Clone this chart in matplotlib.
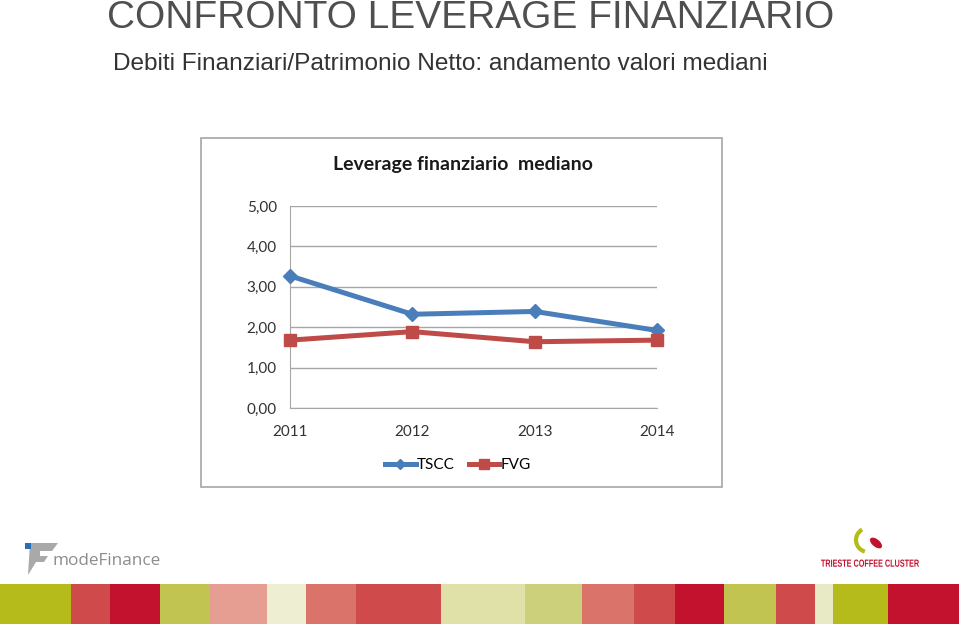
import matplotlib
matplotlib.use("Agg")
import matplotlib.pyplot as plt
import matplotlib.transforms as mtransforms
from matplotlib.patches import Rectangle, Polygon, Ellipse, Arc, PathPatch
from matplotlib.textpath import TextPath
from matplotlib.font_manager import FontProperties
from matplotlib.ticker import FuncFormatter

W, H = 959, 624

# dati
years = ["2011", "2012", "2013", "2014"]
tscc = [3.27, 2.32, 2.39, 1.92]
fvg = [1.68, 1.89, 1.64, 1.68]

# fascia colorata in basso: (x inizio, x fine, colore)
stripes = [
    (0, 71, "#b5bb1b"), (71, 110, "#cf4b4b"), (110, 160, "#c3122e"),
    (160, 210, "#c2c452"), (210, 267, "#e69d92"), (267, 306, "#eeefd2"),
    (306, 356, "#da736a"), (356, 441, "#cf4b4b"), (441, 525, "#dfe1a8"),
    (525, 582, "#cdd07a"), (582, 634, "#da736a"), (634, 675, "#cf4b4b"),
    (675, 724, "#c3122e"), (724, 776, "#c2c452"), (776, 815, "#cf4b4b"),
    (815, 833, "#e8eac5"), (833, 888, "#b5bb1b"), (888, 959, "#c3122e"),
]


def fx(x):
    return x / W


def fy(y):
    # y in pixel dall'alto
    return 1 - y / H


fig = plt.figure(figsize=(W / 100, H / 100), dpi=100)
fig.patch.set_facecolor("white")
pix = mtransforms.Affine2D().scale(1 / W, 1 / H) + fig.transFigure

# titoli della slide
fig.text(fx(107), fy(28.5), "CONFRONTO LEVERAGE FINANZIARIO", family="Liberation Sans",
         fontsize=28, color="#4f4f4f", va="baseline", ha="left")
fig.text(fx(113), fy(70), "Debiti Finanziari/Patrimonio Netto: andamento valori mediani",
         family="Liberation Sans", fontsize=17.6, color="#333333", va="baseline", ha="left")

# cornice del grafico
fig.patches.append(Rectangle((fx(201), fy(487)), fx(722) - fx(201), fy(138) - fy(487),
                             transform=fig.transFigure, fill=False, edgecolor="#a6a6a6", lw=1.2))
fig.text(fx(463), fy(165), "Leverage finanziario  mediano", family="Lato", fontweight="bold",
         fontsize=14, color="#1a1a1a", ha="center", va="center")

ax = fig.add_axes([fx(290), fy(408), fx(657) - fx(290), fy(206) - fy(408)])
x = list(range(len(years)))
ax.plot(x, tscc, color="#4a7ebb", lw=3.6, marker="D", ms=7, clip_on=False, zorder=3, label="TSCC")
ax.plot(x, fvg, color="#be4b48", lw=3.6, marker="s", ms=9, clip_on=False, zorder=3, label="FVG")

ax.set_xlim(0, 3)
ax.set_ylim(0, 5)
ax.set_yticks([0, 1, 2, 3, 4, 5])
ax.yaxis.set_major_formatter(FuncFormatter(lambda v, p: f"{v:.2f}".replace(".", ",")))
ax.set_xticks(x)
ax.set_xticklabels(years)
ax.grid(axis="y", color="#a6a6a6", lw=1)
ax.set_axisbelow(True)
for s in ["top", "right"]:
    ax.spines[s].set_visible(False)
ax.spines["left"].set_color("#a6a6a6")
ax.spines["bottom"].set_color("#a6a6a6")
ax.tick_params(length=0, labelsize=11, colors="#333333")
ax.tick_params(axis="y", pad=9.5)
ax.tick_params(axis="x", pad=12)
for lab in ax.get_xticklabels() + ax.get_yticklabels():
    lab.set_family("Lato")

fig.legend(loc="center", bbox_to_anchor=(fx(458), fy(465)), ncol=2, frameon=False,
           handlelength=2.0, columnspacing=0.9, handletextpad=0.1, markerscale=0.8,
           prop={"family": "Lato", "size": 11})

# fascia colorata
for x0, x1, c in stripes:
    fig.patches.append(Rectangle((fx(x0), 0), fx(x1) - fx(x0), fy(584), transform=fig.transFigure,
                                 facecolor=c, edgecolor="none"))

# logo modeFinance
fig.patches.append(Polygon([(fx(30), fy(543)), (fx(58), fy(543)), (fx(52), fy(551)), (fx(40), fy(551)),
                            (fx(40), fy(556)), (fx(48), fy(556)), (fx(44), fy(562)), (fx(36), fy(562)),
                            (fx(28), fy(575))], closed=True, transform=fig.transFigure,
                           facecolor="#a9a9a9", edgecolor="none"))
fig.patches.append(Rectangle((fx(25), fy(549)), fx(6), fy(543) - fy(549), transform=fig.transFigure,
                             facecolor="#2a6fb6", edgecolor="none"))
fig.text(fx(52), fy(561), "modeFinance", family="Open Sans", fontsize=12.3, color="#8c8c8c",
         va="center", ha="left")

# logo Trieste Coffee Cluster
fig.patches.append(Arc((fx(868), fy(540)), fx(24), fy(528) - fy(552), theta1=110, theta2=260,
                       transform=fig.transFigure, color="#b5bb1b", lw=3))
fig.patches.append(Ellipse((fx(876), fy(543)), fx(9), fy(537) - fy(549), angle=30,
                           transform=fig.transFigure, facecolor="#c3122e", edgecolor="none"))
# testo stretto: TextPath schiacciato in orizzontale
tp = TextPath((0, 0), "TRIESTE COFFEE CLUSTER", size=10,
              prop=FontProperties(family="Liberation Sans", weight="bold"))
bb = tp.get_extents()
sx = 98 / bb.width
tr = mtransforms.Affine2D().translate(-bb.x0, 0).scale(sx, 1.03).translate(821, H - 566.7) + pix
fig.patches.append(PathPatch(tp, transform=tr, facecolor="#c3122e", edgecolor="none"))

fig.savefig("out.png", dpi=100)
